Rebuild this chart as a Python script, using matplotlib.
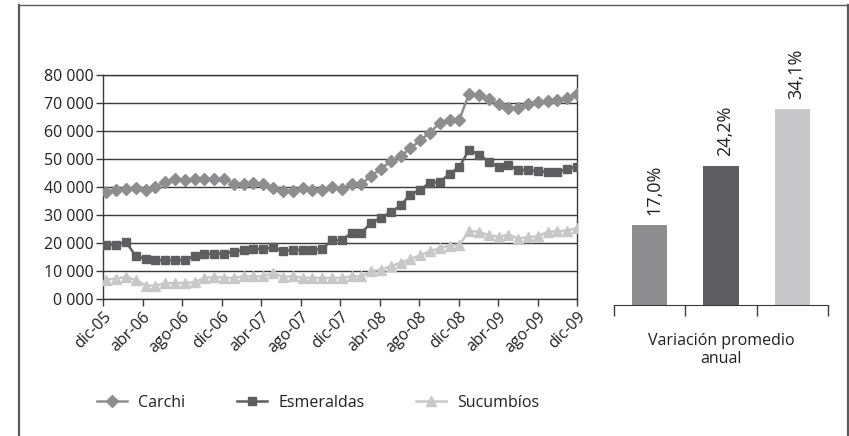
import matplotlib
matplotlib.use("Agg")
import matplotlib.pyplot as plt
from matplotlib.lines import Line2D
import numpy as np

plt.rcParams['font.family'] = ['Open Sans', 'DejaVu Sans']

months = ["dic-05", "ene-06", "feb-06", "mar-06", "abr-06", "may-06", "jun-06", "jul-06", "ago-06",
          "sep-06", "oct-06", "nov-06", "dic-06", "ene-07", "feb-07", "mar-07", "abr-07", "may-07",
          "jun-07", "jul-07", "ago-07", "sep-07", "oct-07", "nov-07", "dic-07", "ene-08", "feb-08",
          "mar-08", "abr-08", "may-08", "jun-08", "jul-08", "ago-08", "sep-08", "oct-08", "nov-08",
          "dic-08", "ene-09", "feb-09", "mar-09", "abr-09", "may-09", "jun-09", "jul-09", "ago-09",
          "sep-09", "oct-09", "nov-09", "dic-09"]

carchi = [38300, 38900, 39300, 39800, 38900, 40000, 41800, 42700, 42400, 42900, 42900, 42900, 42900,
          41200, 41200, 41500, 41200, 39500, 38500, 38500, 39700, 38900, 38900, 40000, 39300,
          41100, 41200, 43900, 46500, 49200, 51000, 53800, 56700, 59400, 62900, 64100, 64100,
          73300, 72700, 71300, 69500, 68100, 68100, 69700, 70300, 70600, 70900, 71900, 73300]

esmeraldas = [19400, 19400, 20300, 15300, 14300, 13800, 13800, 13800, 13800, 15500, 16000, 16200, 16200,
              16900, 17500, 17900, 17900, 18400, 17200, 17500, 17500, 17500, 17900, 20900, 21000,
              23600, 23600, 27200, 29000, 31000, 33400, 37300, 39100, 41500, 41800, 44700, 47200,
              53300, 51600, 49000, 47200, 47800, 46200, 46000, 45600, 45400, 45200, 46500, 47200]

sucumbios = [6900, 7300, 7900, 6700, 4800, 4800, 5700, 5700, 5700, 6000, 7500, 7900, 7600,
             7500, 8100, 8100, 8100, 9300, 7900, 8100, 7600, 7600, 7500, 7500, 7500,
             8100, 8100, 9900, 10500, 11700, 12900, 14300, 15600, 17000, 18200, 19100, 19400,
             24300, 24000, 22800, 22200, 23000, 21600, 22100, 22400, 24000, 24200, 24400, 25400]

series_names = ["Carchi", "Esmeraldas", "Sucumbíos"]
bar_labels = ["17,0%", "24,2%", "34,1%"]
bar_heights = [27.2, 47.3, 66.7]  # heights as drawn in the picture
bar_category = "Variación promedio\nanual"

col_carchi = "#8e8e91"
col_esm = "#5e5e61"
col_suc = "#c8c8ca"
txt = "#231f20"
grid_c = "#3a3a3a"

W, H = 849, 436
fig = plt.figure(figsize=(W / 100, H / 100), dpi=100)

# frame around the figure (left, top, right)
frame_c = "#5a5a5a"
fig.add_artist(Line2D([19 / W, 19 / W], [0, 1 - 5 / H], color=frame_c, lw=1.6, transform=fig.transFigure))
fig.add_artist(Line2D([19 / W, 1], [1 - 5 / H, 1 - 5 / H], color=frame_c, lw=1.0, transform=fig.transFigure))
fig.add_artist(Line2D([847.5 / W, 847.5 / W], [0, 1 - 5 / H], color=frame_c, lw=1.6, transform=fig.transFigure))

# line chart
ax = fig.add_axes([103 / W, 1 - 299 / H, (577 - 103) / W, (299 - 75) / H])
x = np.arange(len(months))
ax.plot(x, carchi, color=col_carchi, lw=1.8, marker="D", ms=6, label=series_names[0], zorder=3)
ax.plot(x, esmeraldas, color=col_esm, lw=1.8, marker="s", ms=5.5, label=series_names[1], zorder=3)
ax.plot(x, sucumbios, color=col_suc, lw=1.8, marker="^", ms=7, label=series_names[2], zorder=3)

ax.set_xlim(-0.35, len(months) - 1)
ax.set_ylim(0, 80000)
yt = np.arange(0, 80001, 10000)
ax.set_yticks(yt)
ax.set_yticklabels([f"{v // 1000} 000" for v in yt], fontsize=11.5, color=txt)
tick_idx = list(range(0, len(months), 4))
ax.set_xticks(np.linspace(-0.35, len(months) - 1, len(tick_idx)))
ax.set_xticklabels([months[i] for i in tick_idx], rotation=45, ha="right", rotation_mode="anchor",
                   fontsize=11.5, color=txt)
ax.grid(axis="y", color=grid_c, lw=1.0)
ax.set_axisbelow(True)
for s in ax.spines.values():
    s.set_color(grid_c)
    s.set_linewidth(1.0)
ax.tick_params(axis="both", direction="out", length=5, width=1.0, color=grid_c, pad=2)

fig.legend(loc="center", bbox_to_anchor=(318 / W, 1 - 403 / H), ncol=3, frameon=False,
           fontsize=11.5, handlelength=1.9, handletextpad=0.7, columnspacing=3.2, labelcolor=txt)

# bar chart
bx = fig.add_axes([614 / W, 1 - 305 / H, (828 - 614) / W, (305 - 40) / H])
bcols = [col_carchi, col_esm, col_suc]
bpos = np.arange(len(bar_heights))
bx.bar(bpos, bar_heights, width=0.5, color=bcols)
bx.set_xlim(-0.5, 2.5)
bx.set_ylim(0, 90)
for p, h, lab in zip(bpos, bar_heights, bar_labels):
    bx.text(p + 0.06, h + 3.3, lab, rotation=90, ha="center", va="bottom", fontsize=13, color=txt)
for s in ["top", "right", "left"]:
    bx.spines[s].set_visible(False)
bx.spines["bottom"].set_color(grid_c)
bx.set_yticks([])
bx.set_xticks([-0.5, 0.5, 1.5, 2.5])
bx.set_xticklabels([])
bx.tick_params(axis="x", direction="out", length=8, width=1.0, color=grid_c)
bx.text(0.5, -0.17, bar_category, transform=bx.transAxes, ha="center", va="center",
        fontsize=11.5, color=txt, linespacing=1.1)

fig.savefig("out.png", dpi=100)
